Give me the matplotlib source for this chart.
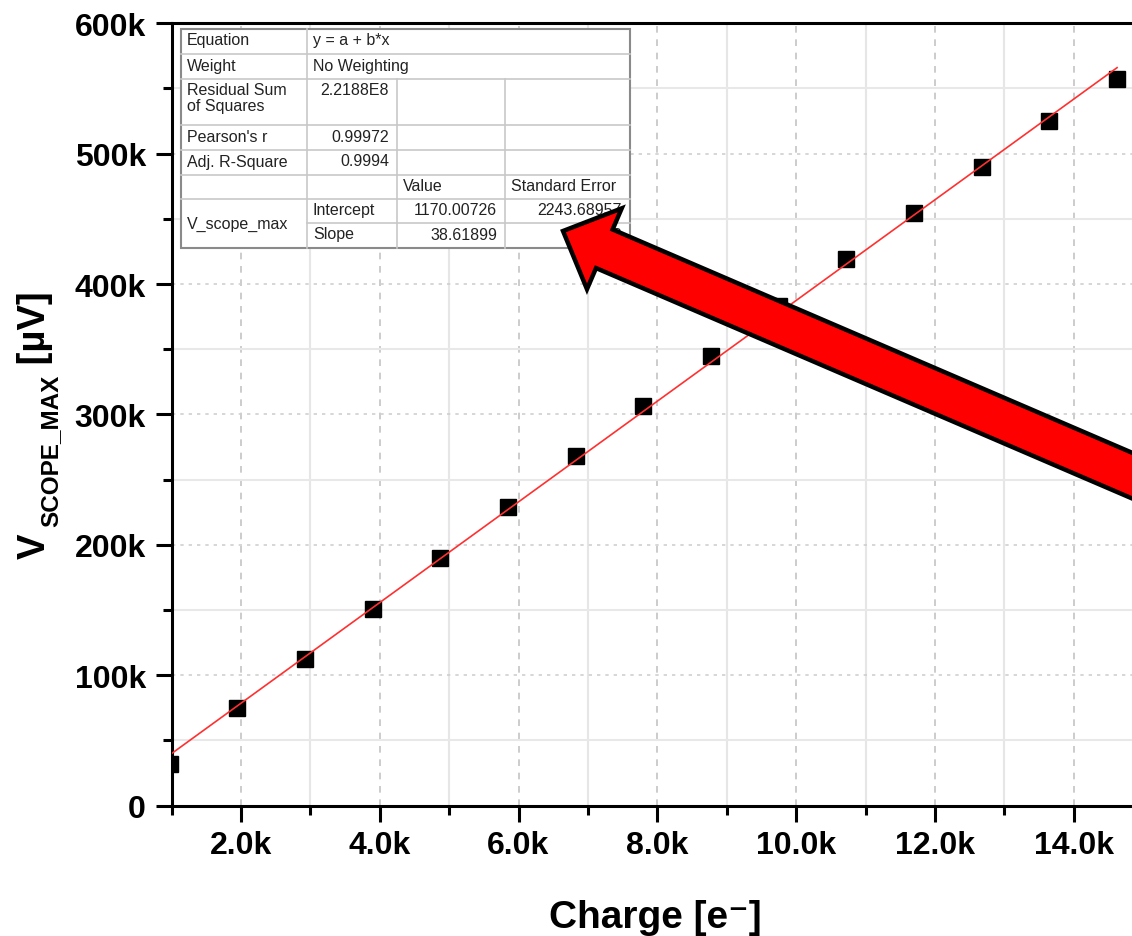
import matplotlib.pyplot as plt
import numpy as np
from matplotlib.patches import FancyArrow, Rectangle
from matplotlib.ticker import FixedLocator

plt.rcParams['font.family'] = ['Liberation Sans', 'DejaVu Sans']

# injected charge and peak scope voltage
charge = [975, 1950, 2925, 3900, 4875, 5850, 6825, 7800, 8775, 9750,
          10725, 11700, 12675, 13650, 14625]
v_max = [32000, 74500, 112000, 151000, 190000, 229000, 268300, 306400,
         344700, 383000, 418900, 454700, 490000, 524800, 557000]

# linear fit results (Origin style report)
intercept = 1170.00726
slope = 38.61899

x_ticks = [2000, 4000, 6000, 8000, 10000, 12000, 14000]
x_ticklabels = ['2.0k', '4.0k', '6.0k', '8.0k', '10.0k', '12.0k', '14.0k']
x_minor = [1000, 3000, 5000, 7000, 9000, 11000, 13000]
y_ticks = [0, 100000, 200000, 300000, 400000, 500000, 600000]
y_ticklabels = ['0', '100k', '200k', '300k', '400k', '500k', '600k']
y_minor = [50000, 150000, 250000, 350000, 450000, 550000]

report = [
    # row, col, text, align
    (0, 0, 'Equation', 'left'), (0, 1, 'y = a + b*x', 'left'),
    (1, 0, 'Weight', 'left'), (1, 1, 'No Weighting', 'left'),
    (3, 0, "Pearson's r", 'left'), (3, 1, '0.99972', 'right'),
    (4, 0, 'Adj. R-Square', 'left'), (4, 1, '0.9994', 'right'),
    (5, 2, 'Value', 'left'), (5, 3, 'Standard Error', 'left'),
    (6, 1, 'Intercept', 'left'), (6, 2, '1170.00726', 'right'),
    (6, 3, '2243.68957', 'right'),
    (7, 1, 'Slope', 'left'), (7, 2, '38.61899', 'right'),
    (7, 3, '0.25313', 'right'),
]

W, H = 1132, 937
fig = plt.figure(figsize=(W / 100, H / 100), dpi=100)
ax = fig.add_axes([171.5 / W, 130.5 / H, 971.6 / W, 782.2 / H])

ax.set_xlim(1000, 15000)
ax.set_ylim(0, 600000)

ax.plot(charge, v_max, 's', color='black', ms=11.8, zorder=3)
xfit = np.array([min(charge), max(charge)])
ax.plot(xfit, intercept + slope * xfit, color='#ff3030', lw=1.2, zorder=4)

ax.xaxis.set_major_locator(FixedLocator(x_ticks))
ax.xaxis.set_minor_locator(FixedLocator(x_minor))
ax.set_xticklabels(x_ticklabels)
ax.yaxis.set_major_locator(FixedLocator(y_ticks))
ax.yaxis.set_minor_locator(FixedLocator(y_minor))
ax.set_yticklabels(y_ticklabels)

ax.grid(which='major', axis='x', color='#c4c4c4', lw=1.2, ls=(0, (4, 4)))
ax.grid(which='minor', axis='x', color='#e6e6e6', lw=1.5, ls='-')
ax.grid(which='major', axis='y', color='#cfcfcf', lw=1.2, ls=(0, (2, 3)))
ax.grid(which='minor', axis='y', color='#e8e8e8', lw=1.5, ls='-')
ax.set_axisbelow(True)

for s in ax.spines.values():
    s.set_linewidth(2.2)
ax.tick_params(which='major', length=11.5, width=2.2, direction='out')
ax.tick_params(which='minor', length=6.5, width=2.2, direction='out')
ax.tick_params(axis='y', pad=7)
ax.tick_params(axis='x', pad=6.5)
for lab in ax.get_xticklabels() + ax.get_yticklabels():
    lab.set_fontsize(23)
    lab.set_fontweight('bold')

# overlay in pixel units for the report table, labels and arrow
ov = fig.add_axes([0, 0, 1, 1])
ov.set_xlim(0, W)
ov.set_ylim(H, 0)
ov.axis('off')
ov.patch.set_visible(False)

cols = [181, 307, 397, 505, 630]
rows = [30, 55, 80, 126, 151, 176, 200, 224, 249]
ov.add_patch(Rectangle((cols[0], rows[0]), cols[-1] - cols[0], rows[-1] - rows[0],
                       facecolor='white', edgecolor='#8a8a8a', lw=1.5, zorder=5))
grid_kw = dict(color='#c8c8c8', lw=1.2, zorder=6)
for y in rows[1:-2]:
    ov.plot([cols[0], cols[-1]], [y, y], **grid_kw)
ov.plot([cols[1], cols[-1]], [rows[7], rows[7]], **grid_kw)
ov.plot([cols[1], cols[1]], [rows[0], rows[-1]], **grid_kw)
for x in cols[2:4]:
    ov.plot([x, x], [rows[2], rows[-1]], **grid_kw)

txt_kw = dict(fontsize=11.5, color='#222222', zorder=7)
for r, c, s, al in report:
    yc = (rows[r] + rows[r + 1]) / 2 - 1.5
    x = cols[c] + 6 if al == 'left' else cols[c + 1] - 8
    ov.text(x, yc, s, ha=al, va='center', **txt_kw)
ov.text(cols[0] + 6, rows[2] + 3, 'Residual Sum\nof Squares', ha='left', va='top',
        linespacing=1.05, **txt_kw)
ov.text(cols[2] - 8, rows[2] + 3, '2.2188E8', ha='right', va='top', **txt_kw)
ov.text(cols[0] + 6, rows[7], 'V_scope_max', ha='left', va='center', **txt_kw)

# axis titles
ov.text(655, 928, 'Charge [e\u207b]', ha='center', va='baseline',
        fontsize=28, fontweight='bold')

fig.canvas.draw()
rend = fig.canvas.get_renderer()


def put(x, y, s, size):
    t = ov.text(x, y, s, rotation=90, rotation_mode='anchor', ha='left',
                va='baseline', fontsize=size, fontweight='bold')
    return t.get_window_extent(rend).height


y0 = 559
y0 -= put(45, y0, 'V', 27.5) + 6
y0 -= put(57, y0, 'SCOPE_MAX', 17.5)
put(45, y0, ' [\u00b5V]', 27.5)

# callout arrow pointing at the fit report
tip = np.array([563.0, 232.0])
d = np.array([0.919, 0.395])
tail = tip + 700 * d
ov.add_patch(FancyArrow(tail[0], tail[1], *(tip - tail), width=42,
                        head_width=88, head_length=45, length_includes_head=True,
                        facecolor='#ff0000', edgecolor='black', lw=3.2,
                        joinstyle='miter', zorder=10))

fig.savefig('out.png', dpi=100)
